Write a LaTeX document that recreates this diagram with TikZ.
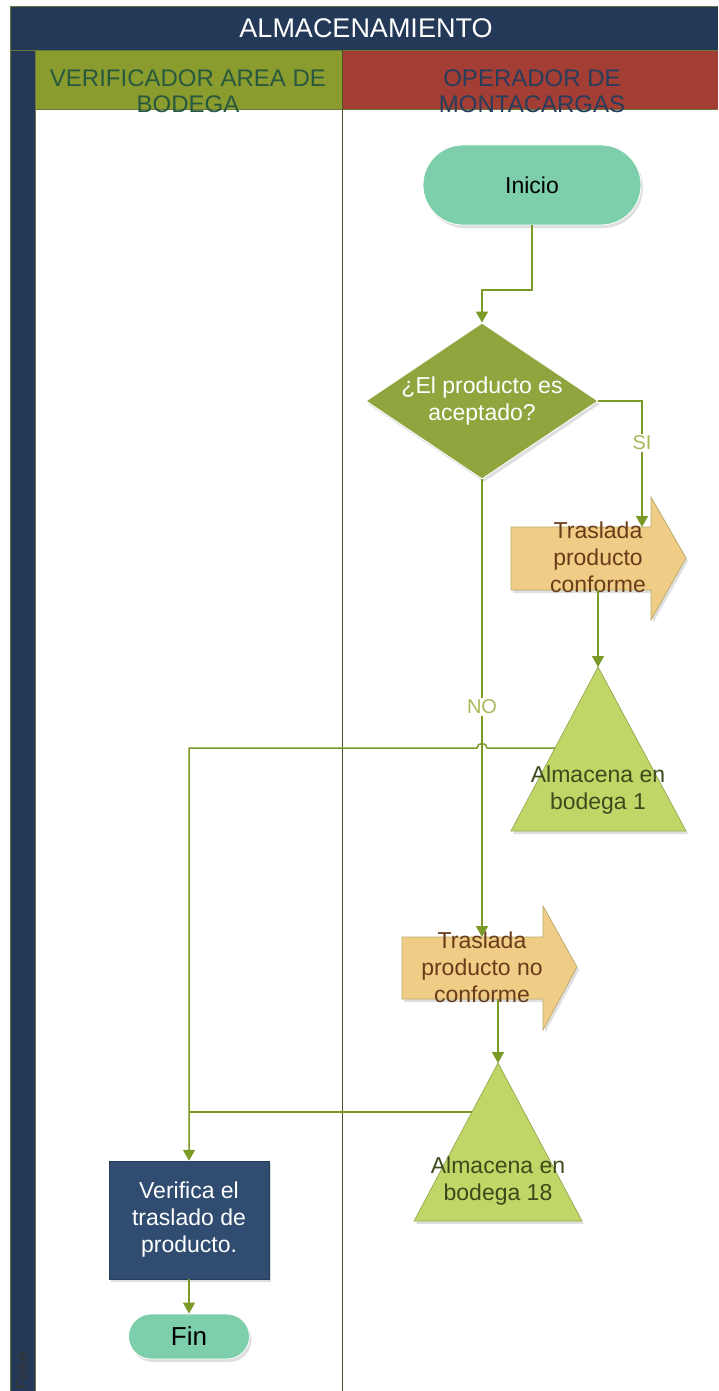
\documentclass[tikz,border=0pt]{standalone}
\usepackage{fontspec}
\setmainfont{Liberation Sans}
\usetikzlibrary{arrows.meta,shapes.geometric,shadows}
\definecolor{navy}{RGB}{36,57,87}
\definecolor{laneG}{RGB}{139,156,46}
\definecolor{laneR}{RGB}{163,62,52}
\definecolor{hdrG}{RGB}{40,88,62}
\definecolor{hdrR}{RGB}{40,60,92}
\definecolor{mint}{RGB}{125,206,171}
\definecolor{dia}{RGB}{143,165,62}
\definecolor{tanf}{RGB}{240,205,134}
\definecolor{tanedge}{RGB}{185,170,105}
\definecolor{brownt}{RGB}{105,60,25}
\definecolor{trif}{RGB}{192,214,102}
\definecolor{triedge}{RGB}{150,170,80}
\definecolor{trit}{RGB}{60,75,28}
\definecolor{boxb}{RGB}{48,76,112}
\definecolor{conn}{RGB}{122,153,38}
\definecolor{lbl}{RGB}{165,185,90}
\definecolor{frame}{RGB}{105,120,60}
\tikzset{
  txt/.style={font=\fontsize{23}{27}\selectfont, align=center, inner sep=0pt},
  shad/.style={drop shadow={opacity=0.25, shadow xshift=2pt, shadow yshift=-3pt}},
  startstop/.style={shape=rectangle, fill=mint, draw=white, line width=0.8pt, shad, txt, text=black},
  conn/.style={draw=conn, line width=1.5pt, -{Triangle[width=12pt,length=11pt]}},
  connplain/.style={draw=conn, line width=1.5pt},
  lbltxt/.style={font=\fontsize{20}{20}\selectfont, text=lbl, fill=white, inner sep=2pt},
  hdr/.style={font=\fontsize{24}{26}\selectfont, align=center, inner sep=0pt},
}
\begin{document}
\begin{tikzpicture}[x=1pt,y=-1pt]
\useasboundingbox (0,0) rectangle (718,1391);
\fill[white] (0,0) rectangle (718,1391);
% pool frame
\fill[navy] (10,6) rectangle (718,50);
\fill[navy] (10,50) rectangle (35,1391);
\fill[laneG] (35,50) rectangle (342,109);
\fill[laneR] (342,50) rectangle (718,109);
\draw[frame, line width=0.8pt] (10,1391) -- (10,6) -- (718,6);
\draw[frame, line width=0.8pt] (10,50) -- (718,50);
\draw[frame, line width=0.8pt] (35,1391) -- (35,50);
\draw[frame, line width=0.8pt] (35,109) -- (718,109);
\draw[frame!70!black, line width=0.8pt] (342,50) -- (342,1391);
\node[font=\fontsize{27}{27}\selectfont, text=white, inner sep=0pt] (title) at (366,28) {ALMACENAMIENTO};
\node[hdr, text=hdrG] (laneA) at (188,91) {VERIFICADOR AREA DE\\BODEGA};
\node[hdr, text=hdrR] (laneB) at (532,91) {OPERADOR DE\\MONTACARGAS};
\node[rotate=90, font=\fontsize{17}{17}\selectfont, text=black!80, inner sep=0pt] (fase) at (22,1371) {Fase};

% start
\node[startstop, minimum width=218pt, minimum height=80pt, rounded corners=40pt] (ini) at (532,185) {Inicio};

% decision
\node[diamond, fill=dia, draw=white, line width=0.8pt, shad, minimum width=232pt, minimum height=156pt, inner sep=0pt, aspect=1.49] (dec) at (482,401) {};
\node[txt, text=white] (dectxt) at (482,401) {¿El producto es\\aceptado?};

% arrow shape 1
\filldraw[fill=tanf, draw=tanedge, line width=0.7pt, shad]
  (511,527) -- (651,527) -- (651,497) -- (686,558) -- (651,620) -- (651,590) -- (511,590) -- cycle;
\node[txt, text=brownt] (a1) at (598,557) {Traslada\\producto\\conforme};
\coordinate (a1top) at (642,527);
\coordinate (a1bot) at (598,590);

% triangle 1
\filldraw[fill=trif, draw=triedge, line width=0.7pt, shad] (598,667) -- (686,831) -- (511,831) -- cycle;
\node[txt, text=trit] (t1) at (598,790) {Almacena en\\bodega 1};
\coordinate (t1apex) at (598,667);
\coordinate (t1left) at (555,748);

% arrow shape 2
\filldraw[fill=tanf, draw=tanedge, line width=0.7pt, shad]
  (402,937) -- (543,937) -- (543,906) -- (577,967) -- (543,1030) -- (543,999) -- (402,999) -- cycle;
\node[txt, text=brownt] (a2) at (482,967) {Traslada\\producto no\\conforme};
\coordinate (a2top) at (482,937);
\coordinate (a2bot) at (498,999);

% triangle 2
\filldraw[fill=trif, draw=triedge, line width=0.7pt, shad] (498,1063) -- (582,1221) -- (414,1221) -- cycle;
\node[txt, text=trit] (t2) at (498,1181) {Almacena en\\bodega 18};
\coordinate (t2apex) at (498,1063);
\coordinate (t2left) at (472,1112);

% verify box
\node[rectangle, fill=boxb, draw=boxb!80!black, line width=0.5pt, shad, minimum width=160pt, minimum height=118pt, txt, text=white] (ver) at (189,1220) {Verifica el\\traslado de\\producto.};

% end
\node[startstop, minimum width=121pt, minimum height=45pt, rounded corners=22.5pt, font=\fontsize{26}{26}\selectfont] (fin) at (189,1336.5) {Fin};

% connectors
\draw[conn] (ini.south) -- (532,290) -| (dec.north);
\draw[conn] (dec.east) -| (a1top);
\node[lbltxt] (si) at (642,443) {SI};
\draw[conn] (dec.south) -- (a2top);
\node[lbltxt] (no) at (482,707) {NO};
\draw[conn] (a1bot) -- (t1apex);
\draw[conn] (t1left) -- (487,748) .. controls (487,742) and (477,742) .. (477,748) -- (189,748) -- (ver.north);
\draw[conn] (a2bot) -- (t2apex);
\draw[connplain] (t2left) -- (189,1112);
\draw[conn] (ver.south) -- (fin.north);
\end{tikzpicture}
\end{document}
